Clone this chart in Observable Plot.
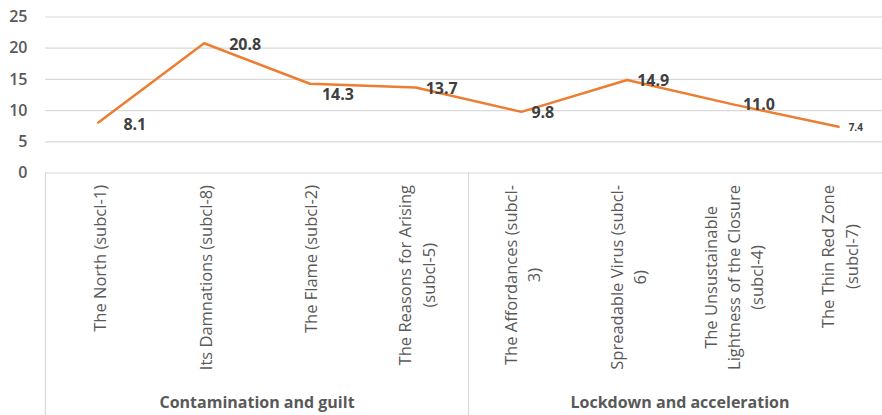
<!DOCTYPE html>
<html>
<head>
<meta charset="utf-8">
<script src="https://cdn.jsdelivr.net/npm/d3@7"></script>
<script src="https://cdn.jsdelivr.net/npm/@observablehq/plot@0.6"></script>
<style>
  html, body { margin: 0; padding: 0; background: #fff; overflow: hidden; }
  #chart { width: 882px; height: 415px; }
</style>
</head>
<body>
<div id="chart"></div>
<script>
const categories = [
  "The North (subcl-1)",
  "Its Damnations (subcl-8)",
  "The Flame (subcl-2)",
  "The Reasons for Arising\n(subcl-5)",
  "The Affordances (subcl-\n3)",
  "Spreadable Virus (subcl-\n6)",
  "The Unsustainable\nLightness of the Closure\n(subcl-4)",
  "The Thin Red Zone\n(subcl-7)"
];
const values = [8.1, 20.8, 14.3, 13.7, 9.8, 14.9, 11.0, 7.4];
const groupOf = [
  "Contamination and guilt", "Contamination and guilt", "Contamination and guilt", "Contamination and guilt",
  "Lockdown and acceleration", "Lockdown and acceleration", "Lockdown and acceleration", "Lockdown and acceleration"
];
const yTicks = [0, 5, 10, 15, 20, 25];

const data = categories.map((c, i) => ({i, c, v: values[i], g: groupOf[i], label: values[i].toFixed(1)}));
const groupNames = Array.from(new Set(groupOf));
const groups = groupNames.map(g => {
  const idx = data.filter(d => d.g === g).map(d => d.i);
  return {g, center: d3.mean(idx), start: d3.min(idx) - 0.5, end: d3.max(idx) + 0.5};
});
const separators = Array.from(new Set(groups.flatMap(g => [g.start, g.end])));

const font = "Open Sans";
const textGray = "#595959";
const labelDark = "#404040";

const plot = Plot.plot({
  width: 882,
  height: 415,
  marginLeft: 45,
  marginRight: 0,
  marginTop: 16.5,
  marginBottom: 242.5,
  style: {fontFamily: font, background: "#fff"},
  x: {type: "linear", domain: [-0.5, categories.length - 0.5], range: [45, 45 + 105.75 * categories.length], axis: null},
  y: {domain: [0, 25]},
  marks: [
    Plot.gridY(yTicks, {stroke: "#d9d9d9", strokeOpacity: 1, strokeWidth: 1.2}),
    Plot.ruleX(separators, {stroke: "#d9d9d9", strokeWidth: 1.2, insetTop: 156, insetBottom: -243}),
    Plot.axisY(yTicks, {tickSize: 0, tickPadding: 18, fontSize: 16, color: textGray, fontWeight: 600, label: null}),
    Plot.line(data, {x: "i", y: "v", stroke: "#ED7D31", strokeWidth: 2.5}),
    // value labels
    Plot.text(data.filter(d => d.i >= 3 && d.i <= 6), {x: "i", y: "v", text: "label", textAnchor: "start", dx: 10, dy: 1, fontSize: 16, fontWeight: "bold", fill: labelDark}),
    Plot.text(data.filter(d => d.i <= 1), {x: "i", y: "v", text: "label", textAnchor: "start", dx: 25, dy: 2, fontSize: 16, fontWeight: "bold", fill: labelDark}),
    Plot.text(data.filter(d => d.i === 2), {x: "i", y: "v", text: "label", textAnchor: "start", dx: 12, dy: 11, fontSize: 16, fontWeight: "bold", fill: labelDark}),
    Plot.text(data.filter(d => d.i === 7), {x: "i", y: "v", text: "label", textAnchor: "start", dx: 10, dy: 1, fontSize: 10, fontWeight: "bold", fill: labelDark}),
    // category labels
    Plot.text(data, {x: "i", frameAnchor: "bottom", text: "c", rotate: -90, textAnchor: "middle", lineAnchor: "middle", lineHeight: 1.4, dy: 12, fontSize: 16.5, fill: textGray, className: "xlab"}),
    // group labels
    Plot.text(groups, {x: "center", frameAnchor: "bottom", text: "g", dy: 235, fontSize: 16, fontWeight: "bold", fill: textGray})
  ]
});

document.getElementById("chart").appendChild(plot);

// top-align rotated category labels (lines centered on each other)
d3.select(plot).selectAll("g.xlab text").each(function() {
  const tspans = this.querySelectorAll("tspan");
  let w = 0;
  if (tspans.length) tspans.forEach(t => { w = Math.max(w, t.getComputedTextLength()); });
  else w = this.getComputedTextLength();
  const tr = this.getAttribute("transform") || "";
  this.setAttribute("transform", tr + ` translate(${-w / 2},0)`);
});
</script>
</body>
</html>
